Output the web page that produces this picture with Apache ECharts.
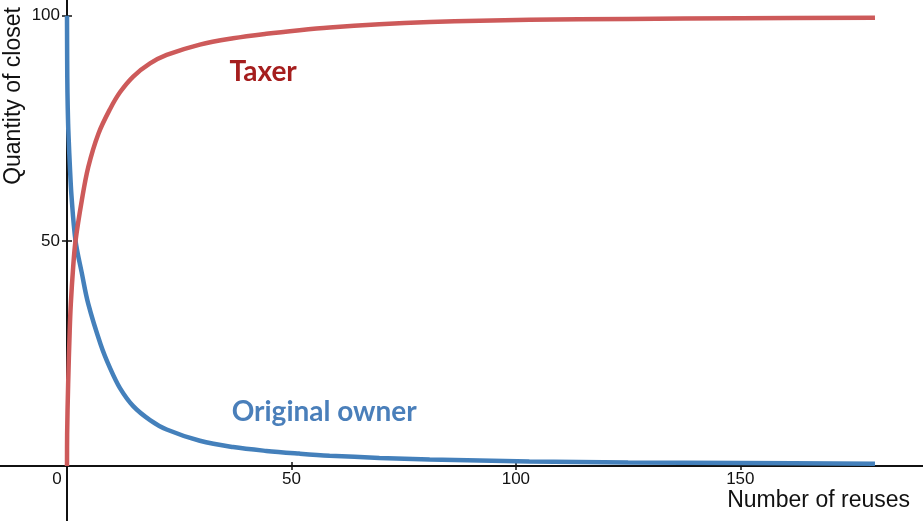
<!DOCTYPE html>
<html>
<head>
<meta charset="utf-8">
<script src="https://cdn.jsdelivr.net/npm/echarts@6/dist/echarts.min.js"></script>
<style>html,body{margin:0;padding:0;background:#fff}#c{width:923px;height:521px}</style>
</head>
<body>
<div id="c"></div>
<script>
// Data
var ownerX = [0, 0.04, 0.1, 0.25, 0.4, 0.62, 1.0, 1.9, 3.27, 4.74, 7.5, 9.57, 11.8, 14.75, 18.5, 22.2, 29.6, 37, 44.4, 51.8, 58.5, 69.6, 80.8, 91.9, 103, 125, 150, 180];
var ownerY = [100, 90, 83, 76, 72, 67, 60, 50, 43, 36, 27, 21.8, 17.3, 13.3, 10.2, 8.1, 5.6, 4.2, 3.35, 2.75, 2.3, 1.8, 1.45, 1.2, 1.0, 0.8, 0.65, 0.5];
var taxerX = [0, 0.03, 0.25, 0.6, 0.85, 1.36, 1.9, 3.3, 4.74, 7, 9.6, 11.8, 14.75, 18.5, 22.2, 29.6, 37, 44.4, 51.8, 58.5, 69.6, 80.8, 91.9, 103, 125, 150, 180];
var taxerY = [0, 7, 18, 30, 36, 44, 50, 59, 66.4, 73.8, 79.3, 83.0, 86.5, 89.4, 91.3, 93.6, 95.0, 96.0, 96.8, 97.4, 98.1, 98.6, 98.9, 99.1, 99.3, 99.45, 99.55];
var xTicks = [0, 50, 100, 150];
var yTicks = [50, 100];
var xName = 'Number of reuses';
var yName = 'Quantity of closet';
var ownerName = 'Original owner';
var taxerName = 'Taxer';
var ownerLabelPos = [57.3, 12.0];
var taxerLabelPos = [43.7, 87.6];

function pairs(xs, ys) { return xs.map(function (x, i) { return [x, ys[i]]; }); }

var XMAX = 190.7, YMAX = 103.5;
var lblFont = '"Liberation Sans", Arial, sans-serif';
var axisCol = '#111';

var chart = echarts.init(document.getElementById('c'), null, {renderer: 'canvas'});
chart.setOption({
  animation: false,
  backgroundColor: '#ffffff',
  grid: {left: 67, right: 0, top: 0, bottom: 55, containLabel: false, outerBoundsMode: 'none'},
  xAxis: [{
    type: 'value', min: 0, max: XMAX, position: 'bottom',
    splitLine: {show: false},
    axisLine: {show: true, onZero: false, lineStyle: {color: axisCol, width: 2}},
    axisTick: {show: true, length: 4, customValues: xTicks.slice(1), lineStyle: {color: axisCol, width: 1.5}},
    axisLabel: {
      customValues: xTicks, margin: 5, color: axisCol, fontSize: 17, fontFamily: lblFont, hideOverlap: false,
      formatter: function (v) { return v === 0 ? '{z|0}' : String(v); },
      rich: {z: {fontSize: 17, fontFamily: lblFont, color: axisCol, padding: [0, 20, 0, 0]}}
    }
  }, {
    type: 'value', min: 0, max: XMAX, position: 'bottom', offset: 0,
    splitLine: {show: false},
    axisLine: {show: false, onZero: false},
    axisTick: {show: true, inside: true, length: 4, customValues: xTicks.slice(1), lineStyle: {color: axisCol, width: 1.5}},
    axisLabel: {show: false}
  }],
  yAxis: [{
    type: 'value', min: 0, max: YMAX, position: 'left',
    splitLine: {show: false},
    axisLine: {show: true, onZero: false, lineStyle: {color: axisCol, width: 2}},
    axisTick: {show: true, length: 5, customValues: yTicks, lineStyle: {color: axisCol, width: 1.5}},
    axisLabel: {customValues: yTicks, margin: 7, color: axisCol, fontSize: 17, fontFamily: lblFont}
  }, {
    type: 'value', min: 0, max: YMAX, position: 'left', offset: 0,
    splitLine: {show: false},
    axisLine: {show: false, onZero: false},
    axisTick: {show: true, inside: true, length: 5, customValues: yTicks, lineStyle: {color: axisCol, width: 1.5}},
    axisLabel: {show: false}
  }],
  graphic: [{
    type: 'text', x: 14, y: 96, rotation: Math.PI / 2,
    style: {text: yName, font: '23px ' + lblFont, fill: axisCol, align: 'center', verticalAlign: 'middle'}
  }, {
    type: 'text', x: 910, y: 501,
    style: {text: xName, font: '23px ' + lblFont, fill: axisCol, align: 'right', verticalAlign: 'middle'}
  }, {
    type: 'line', shape: {x1: 0, y1: 466, x2: 67, y2: 466}, style: {stroke: axisCol, lineWidth: 2}
  }, {
    type: 'line', shape: {x1: 67, y1: 466, x2: 67, y2: 521}, style: {stroke: axisCol, lineWidth: 2}
  }],
  series: [{
    type: 'line', name: ownerName, data: pairs(ownerX, ownerY),
    showSymbol: false, smooth: 0.35, clip: false,
    lineStyle: {color: '#4480bb', width: 4.5},
    markPoint: {
      symbol: 'circle', symbolSize: 0,
      data: [{coord: ownerLabelPos}],
      label: {show: true, position: 'inside', formatter: ownerName, color: '#4a7fba', fontSize: 28, fontWeight: 'bold', fontFamily: 'Lato, sans-serif'}
    }
  }, {
    type: 'line', name: taxerName, data: pairs(taxerX, taxerY),
    showSymbol: false, smooth: 0.35, clip: false,
    lineStyle: {color: '#cd5a5a', width: 4.5},
    markPoint: {
      symbol: 'circle', symbolSize: 0,
      data: [{coord: taxerLabelPos}],
      label: {show: true, position: 'inside', formatter: taxerName, color: '#a51e1e', fontSize: 28, fontWeight: 'bold', fontFamily: 'Lato, sans-serif'}
    }
  }]
});
</script>
</body>
</html>
